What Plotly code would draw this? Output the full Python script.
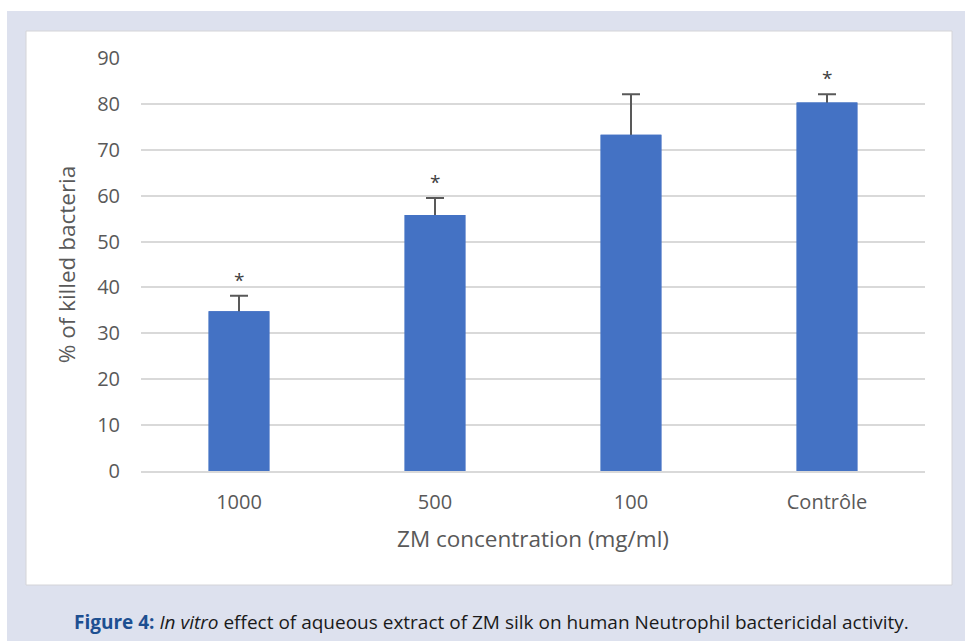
import plotly.graph_objects as go

categories = ["1000", "500", "100", "Contrôle"]
values = [34.8, 55.8, 73.3, 80.3]
errors = [3.4, 3.7, 8.8, 1.8]
marks = ["*", "*", "", "*"]
y_ticks = [0, 10, 20, 30, 40, 50, 60, 70, 80, 90]

W, H = 965, 641
L, R, T, B = 141, 40, 58, 170
pw, ph = W - L - R, H - T - B

def px(x):
    return (x - L) / pw

def py(y):
    return (H - B - y) / ph

fig = go.Figure()
# bars with upward error bars (the lower cap sits inside the bar)
fig.add_trace(go.Bar(
    x=categories, y=values,
    marker=dict(color="#4472C4", line=dict(width=0)),
    width=0.31,
    error_y=dict(type="data", symmetric=False, array=errors, arrayminus=[0.6] * len(values),
                 color="#595959", thickness=2, width=9),
))
# same bars again on top, hiding the lower cap
fig.add_trace(go.Bar(
    x=categories, y=values,
    marker=dict(color="#4472C4", line=dict(width=0)),
    width=0.31,
))

annotations = []
for i, (v, e, m) in enumerate(zip(values, errors, marks)):
    if m:
        annotations.append(dict(x=i, y=v + e, text=m, showarrow=False,
                                yanchor="bottom", yshift=1,
                                font=dict(family="Open Sans", size=19, color="#404040")))

annotations.append(dict(
    x=px(491), y=py(622), xref="paper", yref="paper", showarrow=False,
    xanchor="center", yanchor="middle",
    text="<b><span style='color:#1d4f91'>Figure 4:</span></b> <i>In vitro</i> effect of aqueous extract of ZM silk on human Neutrophil bactericidal activity.",
    font=dict(family="Open Sans", size=19, color="#1a1a1a"),
))

shapes = [
    dict(type="rect", xref="paper", yref="paper", x0=px(7), x1=px(965), y0=py(11), y1=py(641),
         fillcolor="#dde1ee", line=dict(width=0), layer="below"),
    dict(type="rect", xref="paper", yref="paper", x0=px(26), x1=px(952), y0=py(31), y1=py(585),
         fillcolor="#ffffff", line=dict(color="#d4d4d8", width=1), layer="below"),
]

fig.update_layout(
    width=W, height=H,
    margin=dict(l=L, r=R, t=T, b=B),
    paper_bgcolor="#ffffff", plot_bgcolor="rgba(0,0,0,0)",
    showlegend=False,
    barmode="overlay",
    font=dict(family="Open Sans", color="#595959"),
    xaxis=dict(
        type="category", range=[-0.5, 3.5],
        showgrid=False, showline=True, linecolor="#d9d9d9", linewidth=1.5,
        ticks="", tickfont=dict(size=20, color="#595959"), ticklabelstandoff=12,
        title=dict(text="ZM concentration (mg/ml)", font=dict(size=22.5, color="#595959"), standoff=17),
    ),
    yaxis=dict(
        range=[0, 90], tickvals=y_ticks, showgrid=True, gridcolor="#d9d9d9", gridwidth=1.5,
        zeroline=False, showline=False, ticks="",
        tickfont=dict(size=20, color="#595959"), ticklabelstandoff=20,
        title=dict(text="% of killed bacteria", font=dict(size=22.5, color="#595959"), standoff=15),
    ),
    annotations=annotations,
    shapes=shapes,
)

fig.write_html("out.html", config={"displayModeBar": False},
               post_script="document.body.style.margin='0';document.body.style.overflow='hidden';")
